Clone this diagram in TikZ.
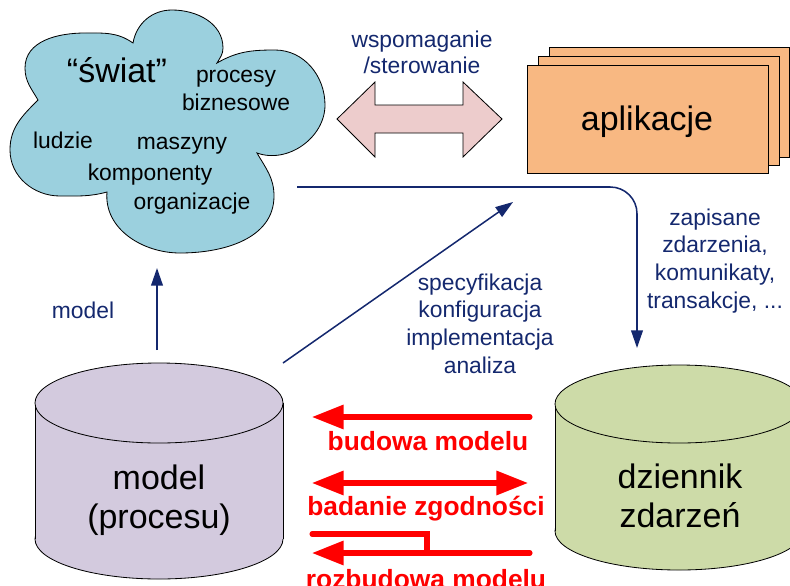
\documentclass[tikz,border=0pt]{standalone}
\usepackage{fontspec}
\setmainfont{Liberation Sans}
\usetikzlibrary{arrows.meta}
\definecolor{navy}{RGB}{20,40,110}
\definecolor{cloudblue}{RGB}{155,208,222}
\definecolor{pinkarr}{RGB}{237,204,204}
\definecolor{appor}{RGB}{248,184,130}
\definecolor{lila}{RGB}{211,202,222}
\definecolor{olive}{RGB}{205,219,168}
\begin{document}
\begin{tikzpicture}
[x=0.03cm,y=0.03cm
,outl/.style={draw=black,line width=0.7pt}
,small/.style={font=\fontsize{19.5}{23.5}\selectfont,inner sep=0pt,anchor=base,align=center}
,big/.style={font=\fontsize{29}{32.5}\selectfont,inner sep=0pt,anchor=base,align=center}
,lbl/.style={small,text=navy}
,be/.style={draw=navy,line width=1.3pt,arrows={-Triangle[length=15pt,width=10pt]}}
,re/.style={draw=red,line width=4.3pt,line cap=round}
,rtip/.style={arrows={-Triangle[length=27pt,width=20pt]}}
,rlbl/.style={font=\bfseries\fontsize{22.5}{26}\selectfont,text=red,inner sep=0pt,anchor=base}
]
\clip (0,0) rectangle (790,-585);
% swiat
\draw[outl,fill=cloudblue] (38,-100) to[out=120,in=-90] (25,-68) to[out=90,in=180] (85,-33)
  to[out=0,in=145] (133,-43) to[out=80,in=180] (172,-10) to[out=0,in=90] (223,-48)
  to[out=-90,in=60] (217,-63) to[out=30,in=180] (275,-50) to[out=0,in=90] (325,-105)
  to[out=-90,in=-20] (257,-153) to[out=-60,in=90] (274,-196) to[out=-90,in=0] (180,-253)
  to[out=180,in=-95] (107,-192) to[out=195,in=0] (60,-196) to[out=180,in=-90] (10,-150)
  to[out=90,in=-135] (38,-100) -- cycle;
\node[big] (swiat) at (117,-82) {“świat”};
\node[small] (procesy) at (236,-110) {procesy\\biznesowe};
\node[small] (ludzie) at (63,-148) {ludzie};
\node[small] (maszyny) at (182,-149) {maszyny};
\node[small] (kompon) at (150,-180) {komponenty};
\node[small] (organiz) at (192,-209) {organizacje};
% aplikacje
\draw[outl,fill=appor] (549,-47) rectangle (789,-157);
\draw[outl,fill=appor] (538,-56) rectangle (779,-165);
\draw[outl,fill=appor] (527,-65) rectangle (768,-173);
\node[big] (aplik) at (647,-130) {aplikacje};
% wspomaganie
\draw[outl,fill=pinkarr] (337,-119) -- (375,-82) -- (375,-105) -- (463,-105) -- (463,-82)
  -- (502,-119) -- (463,-157) -- (463,-133) -- (375,-133) -- (375,-157) -- cycle;
\node[lbl,font=\fontsize{19.5}{22}\selectfont] (wsp) at (422,-73) {wspomaganie\\/sterowanie};
% model
\fill[lila,outl] (159,-539) ellipse [x radius=124,y radius=40];
\fill[lila] (35,-403) rectangle (283,-539);
\draw[outl] (35,-403) -- (35,-539) (283,-403) -- (283,-539);
\draw[outl,fill=lila] (159,-403) ellipse [x radius=124,y radius=40];
\node[big] (model) at (159,-528) {model\\(procesu)};
% dziennik
\fill[olive,outl] (679,-531) ellipse [x radius=124,y radius=39];
\fill[olive] (555,-404) rectangle (803,-531);
\draw[outl] (555,-404) -- (555,-531) (803,-404) -- (803,-531);
\draw[outl,fill=olive] (679,-404) ellipse [x radius=124,y radius=39];
\node[big] (dziennik) at (680,-527) {dziennik\\zdarzeń};
% blue
\coordinate (upA) at (157,-350);
\coordinate (upB) at (157,-268);
\coordinate (diagA) at (283,-363);
\coordinate (diagB) at (513,-202);
\coordinate (logA) at (297,-187);
\coordinate (logB) at (637,-348);
\draw[be] (upA) -- (upB);
\draw[be] (diagA) -- (diagB);
\draw[be,rounded corners=0.8cm] (logA) -| (logB);
\node[lbl] (modellbl) at (83,-318) {model};
\node[lbl] (spec) at (480,-373) {specyfikacja\\konfiguracja\\implementacja\\analiza};
\node[lbl] (zapis) at (715,-308) {zapisane\\zdarzenia,\\komunikaty,\\transakcje, ...};
% red
\coordinate (r1L) at (312,-417);
\coordinate (r1R) at (530,-417);
\coordinate (r2L) at (312,-483);
\coordinate (r2R) at (528,-483);
\coordinate (r3L) at (312,-553);
\coordinate (r3R) at (530,-553);
\coordinate (r3T) at (312,-534);
\coordinate (r3K) at (427,-553);
\draw[re,rtip] (r1R) -- (r1L);
\draw[re,arrows={Triangle[length=27pt,width=20pt]-Triangle[length=27pt,width=20pt]}] (r2L) -- (r2R);
\draw[re,rtip] (r3R) -- (r3L);
\draw[re,line join=miter] (r3T) -| (r3K);
\node[rlbl] (budowa) at (428,-450) {budowa modelu};
\node[rlbl] (badanie) at (426,-515) {badanie zgodności};
\node[rlbl] (rozbud) at (426,-588) {rozbudowa modelu};
\end{tikzpicture}
\end{document}
